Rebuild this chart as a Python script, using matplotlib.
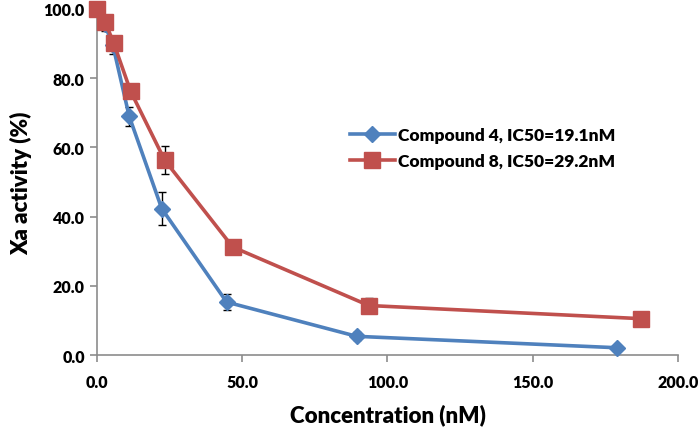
import matplotlib.pyplot as plt

# Compound 4 (blue)
conc_4 = [0.0, 2.8, 5.6, 11.2, 22.4, 44.7, 89.4, 178.8]
act_4 = [100.0, 95.5, 89.5, 69.0, 42.3, 15.3, 5.4, 2.1]
err_4 = [1.0, 2.0, 2.5, 2.8, 4.8, 2.2, 1.2, 0.5]

# Compound 8 (red)
conc_8 = [0.0, 2.9, 5.85, 11.7, 23.4, 46.8, 93.6, 187.2]
act_8 = [100.0, 96.3, 90.2, 76.2, 56.3, 31.2, 14.3, 10.5]
err_8 = [0.5, 2.0, 2.0, 2.0, 4.1, 0.8, 2.3, 0.6]

label_4 = "Compound 4, IC50=19.1nM"
label_8 = "Compound 8, IC50=29.2nM"

xticks = [0, 50, 100, 150, 200]
yticks = [0, 20, 40, 60, 80, 100]

blue = "#4F81BD"
red = "#C0504D"
axis_grey = "#8C8C8C"

plt.rcParams["font.family"] = ["Lato", "DejaVu Sans"]
plt.rcParams["font.weight"] = "heavy"

fig = plt.figure(figsize=(7.0, 4.31), dpi=100)
ax = fig.add_axes([0.138, 0.174, 0.831, 0.803])

for xs, ys, es in [(conc_4, act_4, err_4), (conc_8, act_8, err_8)]:
    eb = ax.errorbar(xs, ys, yerr=es, fmt="none", ecolor="black",
                     elinewidth=1.0, capsize=3, capthick=1.0, zorder=2)
    for art in eb.lines[1] + eb.lines[2]:
        art.set_clip_on(False)

ax.plot(conc_4, act_4, color=blue, lw=2.6, marker="D", ms=8,
        mec=blue, mfc=blue, label=label_4, zorder=3, clip_on=False)
ax.plot(conc_8, act_8, color=red, lw=2.6, marker="s", ms=11,
        mec=red, mfc=red, label=label_8, zorder=4, clip_on=False)

ax.set_xlim(0, 200)
ax.set_ylim(0, 100)
ax.set_xticks(xticks)
ax.set_yticks(yticks)
ax.set_xticklabels([f"{v:.1f}" for v in xticks])
ax.set_yticklabels([f"{v:.1f}" for v in yticks])

for side in ["top", "right"]:
    ax.spines[side].set_visible(False)
for side in ["left", "bottom"]:
    ax.spines[side].set_color(axis_grey)
    ax.spines[side].set_linewidth(1.2)

ax.tick_params(axis="both", colors=axis_grey, labelcolor="black",
               labelsize=11.5, length=5, width=1.2, direction="out")
ax.tick_params(axis="x", pad=9)

ax.set_xlabel("Concentration (nM)", fontsize=16, fontweight="heavy", labelpad=9)
ax.set_ylabel("Xa activity (%)", fontsize=16, fontweight="heavy", labelpad=8)

leg = ax.legend(loc="upper left", bbox_to_anchor=(0.408, 0.705), frameon=False,
                fontsize=12.5, handlelength=2.6, handletextpad=0.2,
                labelspacing=0.6)
for t in leg.get_texts():
    t.set_fontweight("heavy")

fig.savefig("out.png", dpi=100)
